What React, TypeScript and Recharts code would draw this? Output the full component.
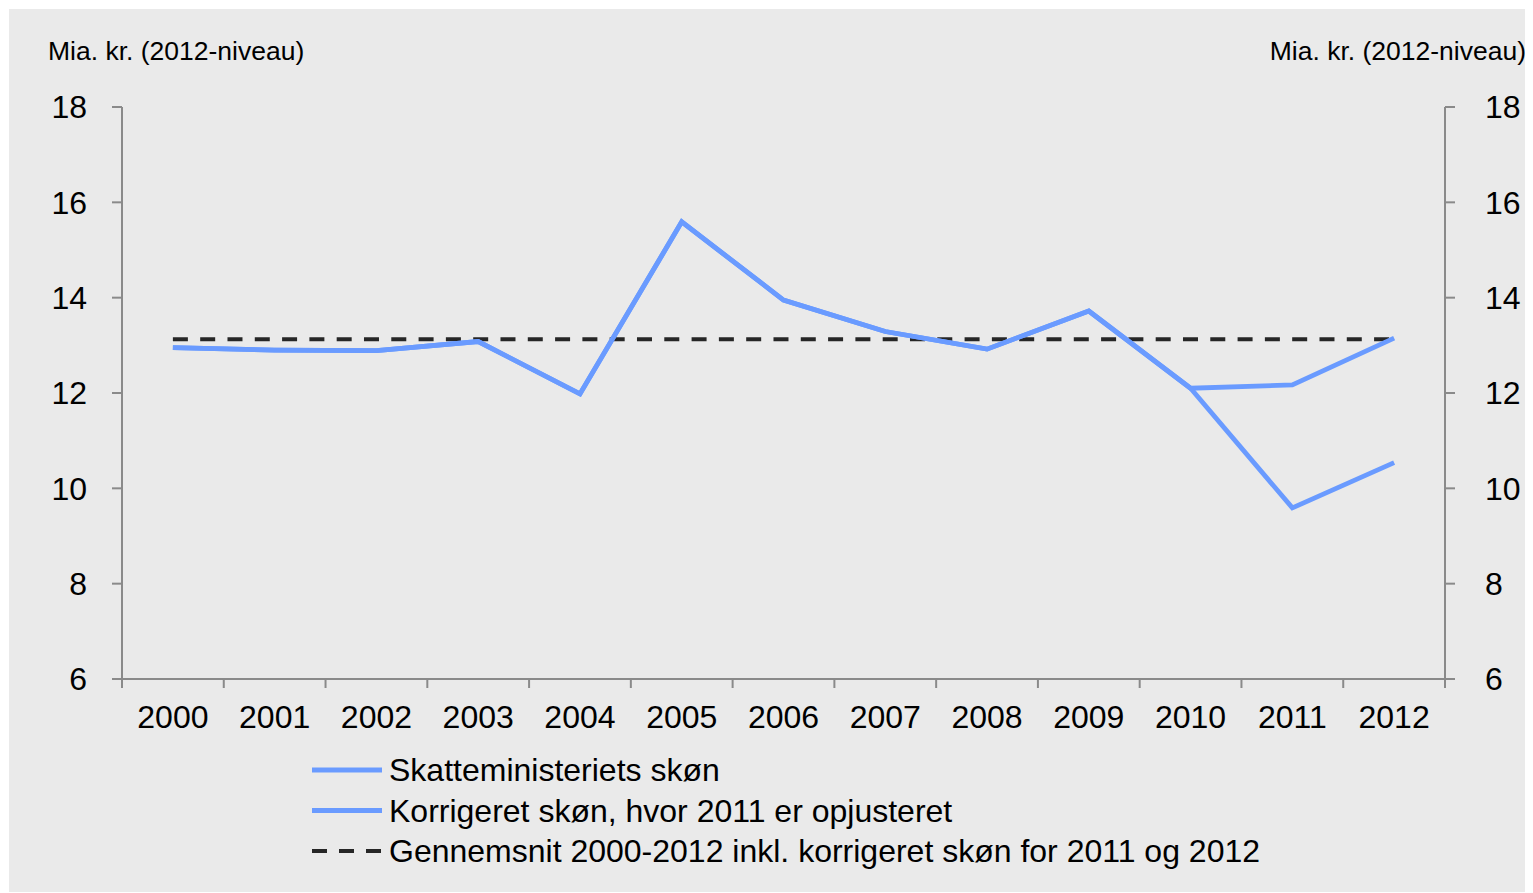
import React from 'react';
import { LineChart, Line, XAxis, YAxis } from 'recharts';

const years = ['2000', '2001', '2002', '2003', '2004', '2005', '2006', '2007', '2008', '2009', '2010', '2011', '2012'];
const skatteministeriet = [12.95, 12.9, 12.89, 13.08, 11.98, 15.59, 13.95, 13.29, 12.92, 13.72, 12.1, 9.59, 10.54];
const korrigeret = [12.95, 12.9, 12.89, 13.08, 11.98, 15.59, 13.95, 13.29, 12.92, 13.72, 12.1, 12.17, 13.15];
const gennemsnit = [13.13, 13.13, 13.13, 13.13, 13.13, 13.13, 13.13, 13.13, 13.13, 13.13, 13.13, 13.13, 13.13];
const yTicks = [6, 8, 10, 12, 14, 16, 18];
const boundaryTicks = [-0.5, 0.5, 1.5, 2.5, 3.5, 4.5, 5.5, 6.5, 7.5, 8.5, 9.5, 10.5, 11.5, 12.5];
const centerTicks = [0, 1, 2, 3, 4, 5, 6, 7, 8, 9, 10, 11, 12];
const seriesNames = [
  'Skatteministeriets skøn',
  'Korrigeret skøn, hvor 2011 er opjusteret',
  'Gennemsnit 2000-2012 inkl. korrigeret skøn for 2011 og 2012',
];
const axisTitle = 'Mia. kr. (2012-niveau)';

const data = years.map((y, i) => ({
  idx: i,
  year: y,
  s1: skatteministeriet[i],
  s2: korrigeret[i],
  avg: gennemsnit[i],
}));

const FONT = '"Liberation Sans", Arial, sans-serif';
const BLUE = '#6a9bff';
const DARK = '#262626';
const AXIS = '#8a8a8a';
const BG = '#eaeaea';

export default function App() {
  return (
    <div
      style={{
        position: 'relative',
        marginLeft: 1,
        marginTop: 1,
        width: 1524,
        height: 883,
        background: BG,
        fontFamily: FONT,
      }}
    >
      <div style={{ position: 'absolute', left: 39, top: 29, fontSize: 26.5, color: '#000', lineHeight: '26px' }}>
        {axisTitle}
      </div>
      <div style={{ position: 'absolute', right: 7, top: 29, fontSize: 26.5, color: '#000', lineHeight: '26px' }}>
        {axisTitle}
      </div>
      <div style={{ position: 'absolute', left: 0, top: 0 }}>
        <LineChart
          width={1524}
          height={883}
          data={data}
          margin={{ top: 98, right: 0, bottom: 153, left: 0 }}
        >
          <XAxis
            xAxisId="b"
            type="number"
            dataKey="idx"
            domain={[-0.5, 12.5]}
            ticks={boundaryTicks}
            tickFormatter={() => ''}
            tickSize={9}
            height={1}
            interval={0}
            axisLine={{ stroke: AXIS, strokeWidth: 2 }}
            tickLine={{ stroke: AXIS, strokeWidth: 2 }}
            allowDataOverflow
          />
          <XAxis
            xAxisId="l"
            type="number"
            dataKey="idx"
            domain={[-0.5, 12.5]}
            ticks={centerTicks}
            tickFormatter={(v: number) => years[v]}
            axisLine={false}
            tickLine={false}
            tickSize={9}
            tickMargin={16}
            height={59}
            interval={0}
            tick={{ fill: '#000', fontSize: 32, fontFamily: FONT }}
            allowDataOverflow
          />
          <YAxis
            yAxisId="left"
            orientation="left"
            domain={[6, 18]}
            ticks={yTicks}
            width={113}
            tickSize={10}
            tickMargin={25}
            interval={0}
            axisLine={{ stroke: AXIS, strokeWidth: 2 }}
            tickLine={{ stroke: AXIS, strokeWidth: 2 }}
            tick={{ fill: '#000', fontSize: 32, fontFamily: FONT }}
          />
          <YAxis
            yAxisId="right"
            orientation="right"
            domain={[6, 18]}
            ticks={yTicks}
            width={88}
            tickSize={10}
            tickMargin={30}
            interval={0}
            axisLine={{ stroke: AXIS, strokeWidth: 2 }}
            tickLine={{ stroke: AXIS, strokeWidth: 2 }}
            tick={{ fill: '#000', fontSize: 32, fontFamily: FONT }}
          />
          <Line
            xAxisId="b"
            yAxisId="right"
            type="linear"
            dataKey="avg"
            name={seriesNames[2]}
            stroke={DARK}
            strokeWidth={4}
            strokeDasharray="15 12.3"
            dot={false}
            activeDot={false}
            isAnimationActive={false}
          />
          <Line
            xAxisId="l"
            yAxisId="left"
            type="linear"
            dataKey="s1"
            name={seriesNames[0]}
            stroke={BLUE}
            strokeWidth={4.8}
            dot={false}
            activeDot={false}
            isAnimationActive={false}
          />
          <Line
            xAxisId="l"
            yAxisId="left"
            type="linear"
            dataKey="s2"
            name={seriesNames[1]}
            stroke={BLUE}
            strokeWidth={4.8}
            dot={false}
            activeDot={false}
            isAnimationActive={false}
          />
        </LineChart>
      </div>
      <svg
        style={{ position: 'absolute', left: 0, top: 0 }}
        width={1524}
        height={883}
      >
        {seriesNames.map((name, i) => {
          const cy = 761 + i * 40.5;
          return (
            <g key={name}>
              <line
                x1={303}
                x2={373}
                y1={cy}
                y2={cy}
                stroke={i === 2 ? DARK : BLUE}
                strokeWidth={i === 2 ? 4 : 5}
                strokeDasharray={i === 2 ? '15 12' : undefined}
              />
              <text x={380} y={cy + 11} fontSize={32} fontFamily={FONT} fill="#000">
                {name}
              </text>
            </g>
          );
        })}
      </svg>
    </div>
  );
}
